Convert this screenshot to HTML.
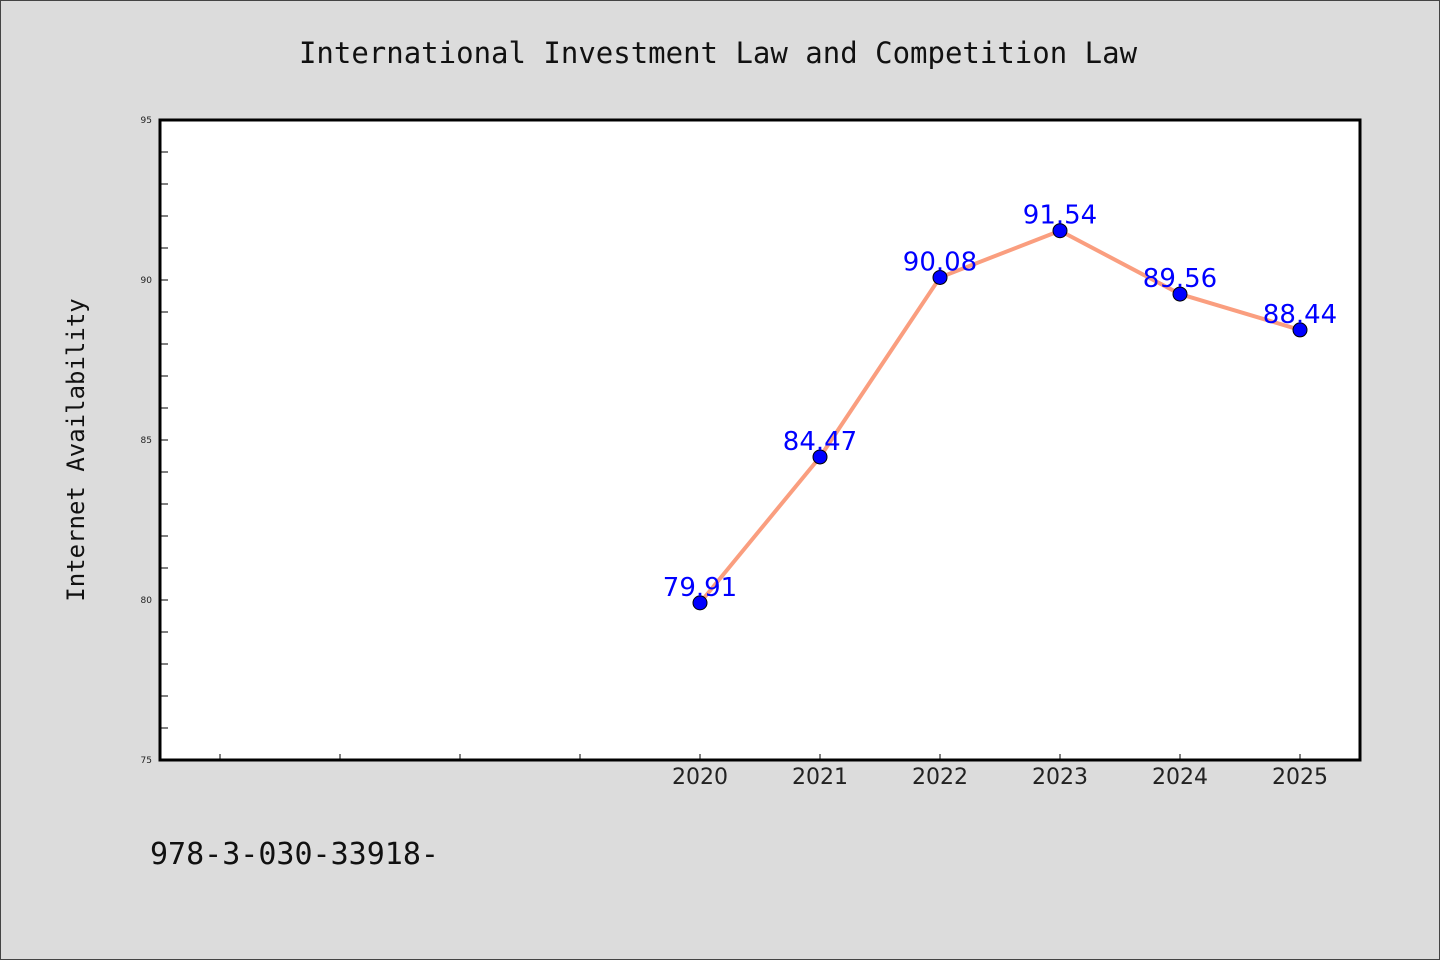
<!DOCTYPE html>
<html><head><meta charset="utf-8"><style>
body{margin:0;background:#dcdcdc;}
svg{display:block;font-family:"DejaVu Sans","Liberation Sans",sans-serif;}
.mono{font-family:"DejaVu Sans Mono","Liberation Mono",monospace;}
</style></head><body>
<svg id="chart" width="1440" height="960">
<rect x="0.5" y="0.5" width="1439" height="959" fill="#dcdcdc" stroke="#444"/>
<text class="mono" x="718" y="63" font-size="29" text-anchor="middle" fill="#111">International Investment Law and Competition Law</text>
<rect x="160" y="120" width="1200" height="640" fill="#fff"/>
<g id="axes"></g>
<g id="marks"></g>
<rect x="160" y="120" width="1200" height="640" fill="none" stroke="#000" stroke-width="3"/>
<text class="mono" transform="translate(84,450) rotate(-90)" font-size="24" text-anchor="middle" fill="#111">Internet Availability</text>
<text class="mono" x="150" y="864" font-size="30" fill="#111">978-3-030-33918-</text>
</svg>
<script>
const years=[2020,2021,2022,2023,2024,2025];
const values=[79.91,84.47,90.08,91.54,89.56,88.44];
const labels=["79.91","84.47","90.08","91.54","89.56","88.44"];
const yTicks=[75,80,85,90,95];
const xMinorTicks=[2016,2017,2018,2019];
const NS="http://www.w3.org/2000/svg";
const X=v=>160+(v-2015.5)*120;
const Y=v=>760-(v-75)*32;
function mk(t,a,p){const e=document.createElementNS(NS,t);for(const k in a)e.setAttribute(k,a[k]);p.appendChild(e);return e;}
const ax=document.getElementById('axes'),mg=document.getElementById('marks');
for(let v=75;v<=95;v++){
 const t=mk('line',{x1:160,x2:168,y1:Y(v),y2:Y(v),stroke:'#000','stroke-width':1},ax);
 
 
}
yTicks.forEach(v=>{
 const t=mk('text',{x:152,y:Y(v)+3,'font-size':9,'text-anchor':'end',fill:'#222'},ax);t.textContent=v;
 
 
});
xMinorTicks.concat(years).forEach(v=>{
 const t=mk('line',{x1:X(v),x2:X(v),y1:760,y2:754,stroke:'#000','stroke-width':1},ax);
 
 
});
years.forEach(v=>{
 const t=mk('text',{x:X(v),y:784,'font-size':22,'text-anchor':'middle',fill:'#222'},ax);t.textContent=v;
 
 
});
const line=mk('polyline',{points:years.map((y,i)=>X(y)+','+Y(values[i])).join(' '),fill:'none',stroke:'#fa9e7f','stroke-width':4,'stroke-linejoin':'round'},mg);


years.forEach((y,i)=>{
 const c=mk('circle',{cx:X(y),cy:Y(values[i]),r:7,fill:'#0000ff',stroke:'#000','stroke-width':1},mg);
 
 
});
years.forEach((y,i)=>{
 const t=mk('text',{x:X(y),y:Y(values[i])-7,'font-size':26,'text-anchor':'middle',fill:'#0000ff'},mg);t.textContent=labels[i];
 
 
});
</script>
</body></html>
